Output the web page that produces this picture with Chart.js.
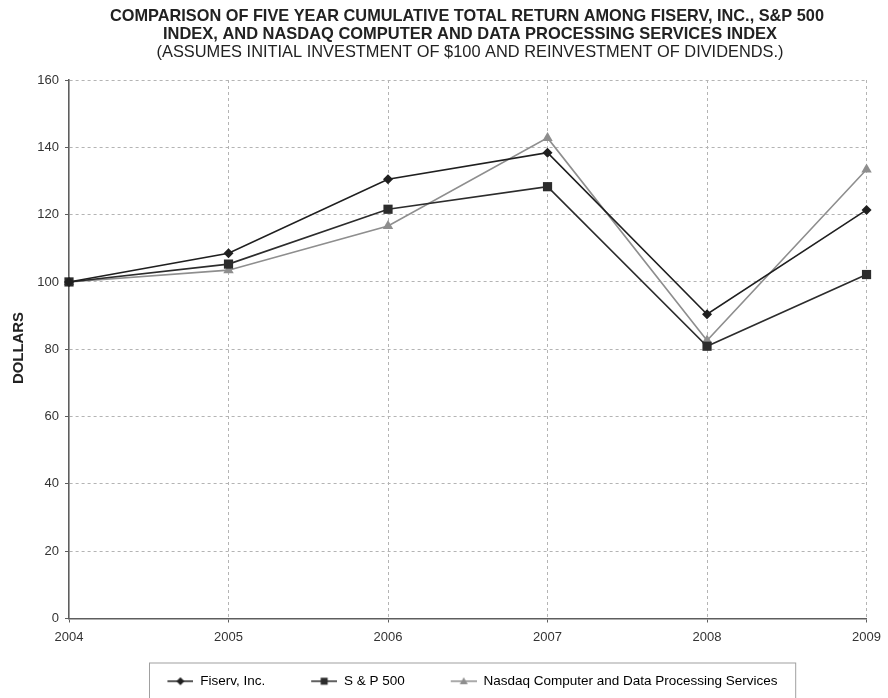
<!DOCTYPE html>
<html>
<head>
<meta charset="utf-8">
<script src="https://cdn.jsdelivr.net/npm/chart.js@4.4.0/dist/chart.umd.min.js"></script>
<style>
  html, body { margin: 0; padding: 0; background: #fff; }
  #wrap { width: 888px; height: 698px; }
</style>
</head>
<body>
<div id="wrap"><canvas id="returnChart"></canvas></div>
<script>
// Chart data
const years = ['2004', '2005', '2006', '2007', '2008', '2009'];
const fiserv = [100, 108.5, 130.5, 138.4, 90.4, 121.4];
const sp500 = [100, 105.3, 121.6, 128.3, 80.9, 102.2];
const nasdaq = [100, 103.5, 116.6, 142.8, 82.6, 133.4];
const seriesNames = ['Fiserv, Inc.', 'S & P 500', 'Nasdaq Computer and Data Processing Services'];
const yTicks = [0, 20, 40, 60, 80, 100, 120, 140, 160];
const titleLines = [
    'COMPARISON OF FIVE YEAR CUMULATIVE TOTAL RETURN AMONG FISERV, INC., S&P 500',
    'INDEX, AND NASDAQ COMPUTER AND DATA PROCESSING SERVICES INDEX',
    '(ASSUMES INITIAL INVESTMENT OF $100 AND REINVESTMENT OF DIVIDENDS.)'
];
const yAxisTitle = 'DOLLARS';

const FONT = "'Liberation Sans', Arial, sans-serif";
const GRID = '#b4b4b4';
const AXIS = '#5e5e5e';

// Draw text squeezed/stretched to a given width
function fitText(ctx, text, x, y, width) {
    const natural = ctx.measureText(text).width;
    ctx.save();
    ctx.translate(x, y);
    ctx.scale(width / natural, 1);
    ctx.fillText(text, 0, 0);
    ctx.restore();
}

// Legend swatch: short line with marker, blank margin on the left
function legendSwatch(color, style, r) {
    const c = document.createElement('canvas');
    c.width = 64;
    c.height = 14;
    const g = c.getContext('2d');
    g.strokeStyle = color;
    g.fillStyle = color;
    g.lineWidth = 1.5;
    g.beginPath();
    g.moveTo(38, 7);
    g.lineTo(64, 7);
    g.stroke();
    const cx = 51, cy = 7;
    g.beginPath();
    if (style === 'rectRot') {
        g.moveTo(cx, cy - r); g.lineTo(cx + r, cy); g.lineTo(cx, cy + r); g.lineTo(cx - r, cy);
    } else if (style === 'rect') {
        g.rect(cx - r, cy - r, 2 * r, 2 * r);
    } else {
        g.moveTo(cx, cy - r); g.lineTo(cx + r, cy + r * 0.75); g.lineTo(cx - r, cy + r * 0.75);
    }
    g.closePath();
    g.fill();
    return c;
}

const seriesStyle = [
    { color: '#1f1f1f', point: 'rectRot', radius: 5, swatch: 4 },
    { color: '#2c2c2c', point: 'rect', radius: 6.5, swatch: 3.5 },
    { color: '#8e8e8e', point: 'triangle', radius: 6, swatch: 4 }
];
const seriesData = [fiserv, sp500, nasdaq];

const pageText = {
    id: 'pageText',
    afterDraw(chart) {
        const ctx = chart.ctx;
        ctx.save();
        ctx.fillStyle = '#222';
        ctx.textAlign = 'center';
        ctx.textBaseline = 'middle';
        ctx.font = 'bold 17px ' + FONT;
        fitText(ctx, titleLines[0], 467, 16, 714);
        fitText(ctx, titleLines[1], 470, 34, 614);
        ctx.font = '17px ' + FONT;
        fitText(ctx, titleLines[2], 470, 52, 627);

        // y axis title
        ctx.font = 'bold 14px ' + FONT;
        ctx.translate(19, 348);
        ctx.rotate(-Math.PI / 2);
        fitText(ctx, yAxisTitle, 0, 0, 72);
        ctx.restore();

        // legend frame
        const hb = chart.legend.legendHitBoxes;
        if (hb && hb.length) {
            const last = hb[hb.length - 1];
            const left = hb[0].left + 20;
            const right = last.left + last.width + 18;
            ctx.save();
            ctx.strokeStyle = '#a0a0a0';
            ctx.lineWidth = 1;
            ctx.strokeRect(Math.round(left) + 0.5, chart.legend.top - 3.5, right - left, 60);
            ctx.restore();
        }
    }
};

// first grid line sits on the solid axis, so hide it
function gridColor(c) {
    return c.index === 0 ? 'rgba(0,0,0,0)' : GRID;
}

const ctx = document.getElementById('returnChart').getContext('2d');
const returnChart = new Chart(ctx, {
    type: 'line',
    data: {
        labels: years,
        datasets: seriesData.map((d, i) => ({
            label: seriesNames[i],
            data: d,
            borderColor: seriesStyle[i].color,
            backgroundColor: seriesStyle[i].color,
            pointBackgroundColor: seriesStyle[i].color,
            pointBorderColor: seriesStyle[i].color,
            pointStyle: seriesStyle[i].point,
            pointRadius: seriesStyle[i].radius,
            pointBorderWidth: 0,
            borderWidth: 1.6,
            tension: 0,
            fill: false,
            clip: false
        }))
    },
    options: {
        responsive: true,
        maintainAspectRatio: false,
        animation: false,
        layout: {
            padding: { left: 35, right: 16, top: 80, bottom: 0 }
        },
        plugins: {
            title: { display: false },
            tooltip: { enabled: false },
            legend: {
                position: 'bottom',
                labels: {
                    usePointStyle: true,
                    pointStyleWidth: 64,
                    padding: 8,
                    color: '#333',
                    font: { family: FONT, size: 13.5 },
                    generateLabels(chart) {
                        return chart.data.datasets.map((ds, i) => ({
                            text: ds.label,
                            pointStyle: legendSwatch(seriesStyle[i].color, seriesStyle[i].point, seriesStyle[i].swatch),
                            fillStyle: ds.borderColor,
                            strokeStyle: ds.borderColor,
                            lineWidth: 0,
                            hidden: false,
                            datasetIndex: i
                        }));
                    }
                }
            }
        },
        scales: {
            x: {
                type: 'category',
                offset: false,
                afterFit(scale) { scale.height = 48; },
                grid: {
                    color: gridColor,
                    tickColor: AXIS,
                    lineWidth: 1,
                    tickLength: 4,
                    drawTicks: true
                },
                border: { display: true, color: AXIS, width: 1.6, dash: [3, 3] },
                ticks: {
                    color: '#333',
                    padding: 7,
                    maxRotation: 0,
                    font: { family: FONT, size: 13 }
                }
            },
            y: {
                min: yTicks[0],
                max: yTicks[yTicks.length - 1],
                afterFit(scale) { scale.width = 34; },
                grid: {
                    color: gridColor,
                    tickColor: AXIS,
                    lineWidth: 1,
                    tickLength: 4,
                    drawTicks: true
                },
                border: { display: true, color: AXIS, width: 1.6, dash: [3, 3] },
                ticks: {
                    stepSize: yTicks[1] - yTicks[0],
                    color: '#333',
                    padding: 6,
                    font: { family: FONT, size: 13 }
                }
            }
        }
    },
    plugins: [pageText]
});
</script>
</body>
</html>
